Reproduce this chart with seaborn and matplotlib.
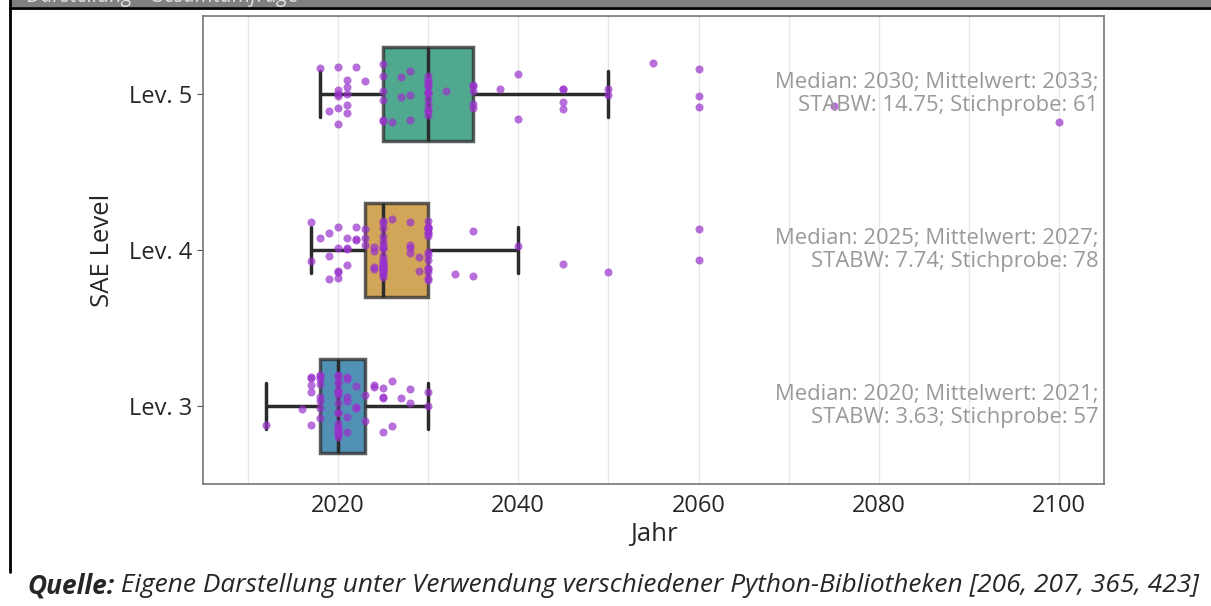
import numpy as np
import pandas as pd
import seaborn as sns
import matplotlib.pyplot as plt
from matplotlib.ticker import MultipleLocator
from matplotlib.patches import Rectangle
from matplotlib.lines import Line2D

# data (year -> number of answers)
levels = ["Lev. 5", "Lev. 4", "Lev. 3"]

lev5_years = [2018, 2019, 2020, 2021, 2022, 2023, 2025, 2026, 2027, 2028, 2030,
              2032, 2035, 2038, 2040, 2045, 2050, 2055, 2060, 2075, 2100]
lev5_counts = [1, 1, 6, 5, 1, 1, 6, 1, 2, 3, 13, 1, 5, 1, 2, 4, 2, 1, 3, 1, 1]

lev4_years = [2017, 2018, 2019, 2020, 2021, 2022, 2023, 2024, 2025, 2026, 2028,
              2029, 2030, 2033, 2035, 2040, 2045, 2050, 2060]
lev4_counts = [2, 1, 3, 5, 4, 3, 3, 4, 22, 1, 4, 2, 16, 1, 2, 1, 1, 1, 2]

lev3_years = [2012, 2016, 2017, 2018, 2020, 2021, 2022, 2023, 2024, 2025, 2026,
              2027, 2028, 2030]
lev3_counts = [1, 1, 5, 8, 18, 6, 3, 2, 2, 4, 2, 1, 2, 2]

stats_text = [
    "Median: 2030; Mittelwert: 2033;\nSTABW: 14.75; Stichprobe: 61",
    "Median: 2025; Mittelwert: 2027;\nSTABW: 7.74; Stichprobe: 78",
    "Median: 2020; Mittelwert: 2021;\nSTABW: 3.63; Stichprobe: 57",
]

caption_bold = "Quelle:"
caption_rest = " Eigene Darstellung unter Verwendung verschiedener Python-Bibliotheken [206, 207, 365, 423]"

rows = []
for lev, yrs, cnts in [("Lev. 5", lev5_years, lev5_counts),
                       ("Lev. 4", lev4_years, lev4_counts),
                       ("Lev. 3", lev3_years, lev3_counts)]:
    for y, c in zip(yrs, cnts):
        rows += [{"Level": lev, "Jahr": y}] * c
df = pd.DataFrame(rows)

sns.set_style("white")
plt.rcParams["font.family"] = ["Open Sans", "DejaVu Sans"]

cb = sns.color_palette("colorblind")
pal = {"Lev. 3": cb[0], "Lev. 4": cb[1], "Lev. 5": cb[2]}

fig = plt.figure(figsize=(12.11, 6.06), dpi=100)
ax = fig.add_axes([0.1676, 0.2013, 0.744, 0.7723])

sns.boxplot(data=df, x="Jahr", y="Level", order=levels, hue="Level", hue_order=levels,
            palette=pal, width=0.6, showfliers=False, linecolor="#2b2b2b",
            linewidth=2.5, boxprops={"alpha": 0.75}, legend=False, ax=ax)

np.random.seed(7)
sns.stripplot(data=df, x="Jahr", y="Level", order=levels, color="darkorchid",
              alpha=0.7, size=5.8, jitter=0.2, ax=ax)

for i, txt in enumerate(stats_text):
    ax.text(2104.4, i, txt, ha="right", va="center", color="#999999",
            fontsize=15.8, linespacing=1.12)

ax.set_xlim(2005, 2105)
ax.xaxis.set_major_locator(MultipleLocator(20))
ax.xaxis.set_minor_locator(MultipleLocator(10))
ax.grid(True, axis="x", which="both", color="#e6e6e6", linewidth=1)
ax.set_axisbelow(True)
ax.tick_params(axis="x", which="both", length=0, labelsize=17, pad=7)
ax.tick_params(axis="y", length=4, color="#555555", labelsize=17, left=True)
for s in ax.spines.values():
    s.set_color("#777777")
    s.set_linewidth(1.2)
ax.set_xlabel("Jahr", fontsize=18.5, labelpad=3)
ax.set_ylabel("SAE Level", fontsize=18.5, labelpad=10)

# page frame around the figure
fig.patches.append(Rectangle((10 / 1211, 1 - 7 / 606), 1, 7 / 606, transform=fig.transFigure,
                             facecolor="#808080", edgecolor="none"))
fig.lines.append(Line2D([10 / 1211, 1], [1 - 8 / 606, 1 - 8 / 606], transform=fig.transFigure,
                        color="black", linewidth=2))
fig.lines.append(Line2D([10 / 1211, 10 / 1211], [1 - 0 / 606, 1 - 572 / 606],
                        transform=fig.transFigure, color="black", linewidth=2))
fig.text(27 / 1211, 1 - 2 / 606, "Darstellung - Gesamtumfrage", color="#e0e0e0",
         fontsize=15, style="italic", va="baseline")

t1 = fig.text(27 / 1211, 1 - 586 / 606, caption_bold, fontsize=18.9, style="italic",
              weight="bold", va="center")
fig.canvas.draw()
bb = t1.get_window_extent()
fig.text(bb.x1 / fig.bbox.width, 1 - 586 / 606, caption_rest, fontsize=18.9,
         style="italic", va="center")

fig.savefig("out.png", dpi=100)
